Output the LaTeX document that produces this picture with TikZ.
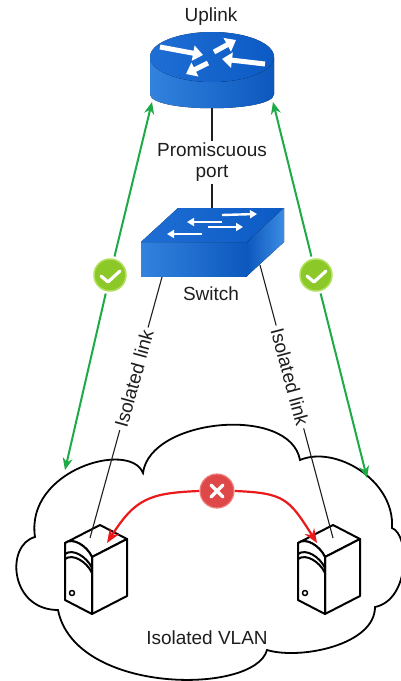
\documentclass[tikz,border=0pt]{standalone}
\usepackage{fontspec}
\setmainfont{Liberation Sans}
\usetikzlibrary{arrows.meta,positioning,calc}
\definecolor{bluelight}{RGB}{50,130,222}
\definecolor{bluedark}{RGB}{12,88,190}
\definecolor{bluetop}{RGB}{30,110,212}
\definecolor{bluetopdark}{RGB}{12,90,196}
\definecolor{bluesidelight}{RGB}{60,140,228}
\definecolor{okgreen}{RGB}{140,200,40}
\definecolor{okrim}{RGB}{178,224,96}
\definecolor{pathgreen}{RGB}{30,170,70}
\definecolor{blockred}{RGB}{235,25,25}
\definecolor{xred}{RGB}{222,72,72}
\definecolor{xrim}{RGB}{240,125,125}
\definecolor{inkcolor}{RGB}{30,30,30}
\tikzset{
    devtext/.style={
        font=\fontsize{19}{21}\selectfont,
        text=inkcolor,
        align=center
    },
    linktext/.style={devtext, fill=white, inner sep=3pt, sloped},
    wire/.style={draw=inkcolor, line width=1.1pt},
    uplinkwire/.style={draw=inkcolor, line width=2pt},
    okpath/.style={draw=pathgreen, line width=2pt, -{Stealth[length=12pt,width=10pt]}},
    blockpath/.style={draw=blockred, line width=2.2pt, -{Stealth[length=14pt,width=11pt]}},
    okmark/.style={circle, fill=okgreen, draw=okrim, line width=1.5pt, minimum size=32pt, inner sep=0pt, outer sep=3pt},
    nomark/.style={circle, fill=xred, draw=xrim, line width=1.2pt, minimum size=34pt, inner sep=0pt, outer sep=1pt},
    tick/.style={draw=white, line width=3.2pt, line cap=round, line join=round},
    rtarrow/.style={draw=white, line width=5pt, -{Triangle[length=10pt,width=15pt]}},
    swarrow/.style={draw=white, line width=2.4pt, -{Triangle[length=7pt,width=8pt]}},
    srvline/.style={draw=black, line width=2pt, line join=round},
    cloudline/.style={draw=black, line width=1.8pt, fill=white},
    server/.pic={
        % top, side and front faces
        \draw[srvline, fill=white] (0,0) .. controls (8,-6) and (22,3) .. (27,14) -- (62,-4) -- (35,-18) -- cycle;
        \draw[srvline, fill=white] (27,14) -- (62,-4) -- (62,53) -- (27,71) -- cycle;
        \draw[srvline, fill=white] (0,0) .. controls (8,-6) and (22,3) .. (27,14) -- (27,71) -- (0,57) -- cycle;
        % drive bay and power button
        \draw[srvline] (0,11) .. controls (8,5) and (22,14) .. (27,25);
        \draw[srvline] (0,16) .. controls (8,10) and (22,19) .. (27,30);
        \draw[srvline, line width=1.5pt] (7,50) circle [radius=2.5];
    }
}

\begin{document}
\begin{tikzpicture}[x=1pt, y=-1pt]
    \useasboundingbox (0,0) rectangle (401,681);

    % Cloud
    \draw[cloudline] (143,473) .. controls (150,418) and (290,405) .. (300,460)
        .. controls (335,445) and (395,480) .. (392,528)
        .. controls (410,535) and (410,600) .. (375,607)
        .. controls (375,645) and (300,660) .. (267,650)
        .. controls (255,695) and (75,695) .. (58,610)
        .. controls (10,610) and (5,545) .. (35,537)
        .. controls (25,470) and (130,440) .. cycle;

    % Servers
    \pic (srvA) at (65,543) {server};
    \pic (srvB) at (298,543) {server};

    % Connection points
    \coordinate (router-s) at (212,107);
    \coordinate (router-sw) at (152,102);
    \coordinate (router-se) at (273,102);
    \coordinate (switch-n) at (212,208);
    \coordinate (switch-sw) at (162,277);
    \coordinate (switch-se) at (260,265);
    \coordinate (srvA-top) at (90,538);
    \coordinate (srvB-top) at (333,538);
    \coordinate (srvA-in) at (107,543);
    \coordinate (srvB-in) at (317,543);
    \coordinate (cloud-nw) at (65,470);
    \coordinate (cloud-ne) at (367,478);

    % Isolated links
    \draw[wire] (switch-sw) -- node[linktext, pos=0.39] (isoA) {Isolated link} (srvA-top);
    \draw[wire] (switch-se) -- node[linktext, pos=0.41] (isoB) {Isolated link} (srvB-top);

    % Allowed paths
    \node[okmark] (okA) at (110,275) {};
    \node[okmark] (okB) at (316,275) {};
    \draw[okpath] (okA) -- (router-sw);
    \draw[okpath] (okA) -- (cloud-nw);
    \draw[okpath] (okB) -- (router-se);
    \draw[okpath] (okB) -- (cloud-ne);
    \draw[tick] ([shift={(-9,1)}]okA.center) -- ++(7,6) -- ++(12,-11);
    \draw[tick] ([shift={(-9,1)}]okB.center) -- ++(7,6) -- ++(12,-11);

    % Blocked path
    \node[nomark] (noAB) at (217,491) {};
    \draw[blockpath] (noAB.west) .. controls +(-50,2) and +(28,-44) .. (srvA-in);
    \draw[blockpath] (noAB.east) .. controls +(50,2) and +(-28,-44) .. (srvB-in);
    \draw[tick] ([shift={(-6,-6)}]noAB.center) -- ++(12,12);
    \draw[tick] ([shift={(6,-6)}]noAB.center) -- ++(-12,12);

    % Uplink to switch
    \draw[uplinkwire] (router-s) -- node[devtext, fill=white, inner sep=2pt, pos=0.55] (promisc) {Promiscuous\\port} (switch-n);

    % Router
    \fill[left color=bluelight, right color=bluedark] (150,57) -- (150,94) .. controls (150,113) and (274,113) .. (274,94) -- (274,57) -- cycle;
    \fill[left color=bluetop, right color=bluetopdark] (212,57) ellipse [x radius=62, y radius=25];
    \draw[rtarrow] (160,47) -- (203,55);
    \draw[rtarrow] (214,52) -- (236,40);
    \draw[rtarrow] (265,64) -- (222,59);
    \draw[rtarrow] (208,63) -- (186,74);

    % Switch
    \fill[left color=bluelight, right color=bluedark] (141,242) rectangle (247,276);
    \fill[left color=bluetop, right color=bluetopdark] (141,242) -- (178,208) -- (284,208) -- (247,242) -- cycle;
    \fill[left color=bluedark, right color=bluesidelight] (247,242) -- (284,208) -- (284,242) -- (247,276) -- cycle;
    \draw[swarrow] (222,215) -- (257,214);
    \draw[swarrow] (222,222) -- (187,222);
    \draw[swarrow] (208,227) -- (243,227);
    \draw[swarrow] (202,234) -- (167,234);

    % Labels
    \node[devtext] (uplink) at (211,17) {Uplink};
    \node[devtext] (switch) at (211,294) {Switch};
    \node[devtext] (vlan) at (207,638) {Isolated VLAN};
\end{tikzpicture}
\end{document}
